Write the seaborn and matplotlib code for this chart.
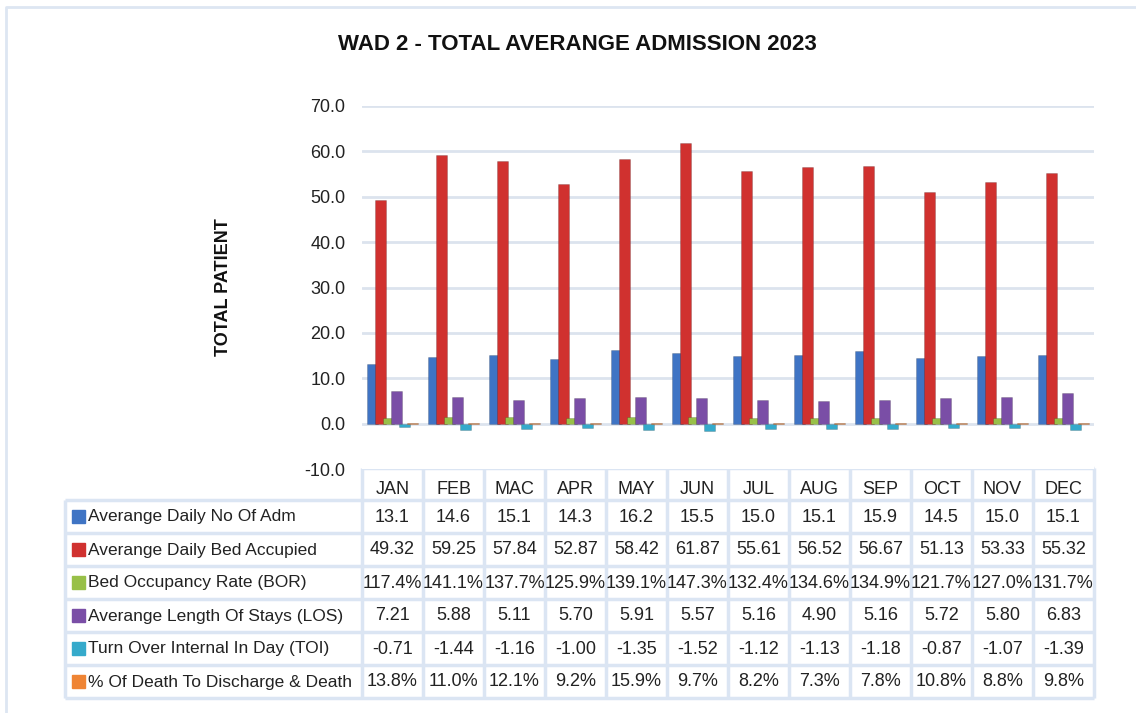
import matplotlib
matplotlib.use("Agg")
import matplotlib.pyplot as plt
import seaborn as sns
import pandas as pd
from matplotlib.patches import Rectangle

months = ["JAN", "FEB", "MAC", "APR", "MAY", "JUN", "JUL", "AUG", "SEP", "OCT", "NOV", "DEC"]
series_names = [
    "Averange Daily No Of Adm",
    "Averange Daily Bed Accupied",
    "Bed Occupancy Rate (BOR)",
    "Averange Length Of Stays (LOS)",
    "Turn Over Internal In Day (TOI)",
    "% Of Death To Discharge & Death",
]
adm = [13.1, 14.6, 15.1, 14.3, 16.2, 15.5, 15.0, 15.1, 15.9, 14.5, 15.0, 15.1]
bed = [49.32, 59.25, 57.84, 52.87, 58.42, 61.87, 55.61, 56.52, 56.67, 51.13, 53.33, 55.32]
bor_pct = [117.4, 141.1, 137.7, 125.9, 139.1, 147.3, 132.4, 134.6, 134.9, 121.7, 127.0, 131.7]
los = [7.21, 5.88, 5.11, 5.70, 5.91, 5.57, 5.16, 4.90, 5.16, 5.72, 5.80, 6.83]
toi = [-0.71, -1.44, -1.16, -1.00, -1.35, -1.52, -1.12, -1.13, -1.18, -0.87, -1.07, -1.39]
death_pct = [13.8, 11.0, 12.1, 9.2, 15.9, 9.7, 8.2, 7.3, 7.8, 10.8, 8.8, 9.8]
yticks = [-10, 0, 10, 20, 30, 40, 50, 60, 70]

colors = ["#3f74c4", "#d0312f", "#98c048", "#7a4ea6", "#35aacb", "#ef8434"]

plot_values = [adm, bed, [v / 100 for v in bor_pct], los, toi, [v / 100 for v in death_pct]]
table_text = [
    [f"{v:.1f}" for v in adm],
    [f"{v:.2f}" for v in bed],
    [f"{v:.1f}%" for v in bor_pct],
    [f"{v:.2f}" for v in los],
    [f"{v:.2f}" for v in toi],
    [f"{v:.1f}%" for v in death_pct],
]

rows = []
for name, vals in zip(series_names, plot_values):
    for m, v in zip(months, vals):
        rows.append({"Month": m, "Series": name, "Value": v})
df = pd.DataFrame(rows)

sns.set_style("white")
plt.rcParams["font.family"] = ["Liberation Sans", "DejaVu Sans"]

W, H = 1136, 713
fig = plt.figure(figsize=(W / 100, H / 100), dpi=100)

x0, x1 = 362, 1094
y_top, y_bot = 106, 469
ax = fig.add_axes([x0 / W, 1 - y_bot / H, (x1 - x0) / W, (y_bot - y_top) / H])
sns.barplot(data=df, x="Month", y="Value", hue="Series", order=months,
            hue_order=series_names, palette=colors, width=0.8,
            saturation=1, ax=ax, legend=False, zorder=3,
            edgecolor="none")
for p in ax.patches:
    w = p.get_width()
    p.set_x(p.get_x() - w * 0.17)
    p.set_width(w * 1.34)
    p.set_edgecolor((0, 0, 0, 0.18))
    p.set_linewidth(0.6)
ax.set_xlim(-0.5, 11.5)
ax.set_ylim(-10, 70)
ax.set_yticks(yticks)
ax.set_yticklabels([f"{t:.1f}" for t in yticks], fontsize=13, color="#222222")
ax.tick_params(axis="y", length=0, pad=12)
ax.set_xticks([])
ax.set_xlabel("")
ax.set_ylabel("TOTAL PATIENT", fontsize=13, fontweight="bold", labelpad=52, color="#111111")
for s in ax.spines.values():
    s.set_visible(False)
for t in yticks[1:]:
    ax.axhline(t, color="#dce3ee", lw=2, zorder=1)

tax = fig.add_axes([0, 0, 1, 1], zorder=-1)
tax.set_xlim(0, W)
tax.set_ylim(H, 0)
tax.axis("off")

lc = "#dde6f2"
tax.plot([6, 6, 1140], [720, 7, 7], color=lc, lw=2)

fig.text(577 / W, 1 - 45 / H, "WAD 2 - TOTAL AVERANGE ADMISSION 2023",
         ha="center", va="center", fontsize=16, fontweight="bold", color="#111111")

cw = (x1 - x0) / 12
tl = 65
row_tops = [500, 533, 566, 599, 632, 665, 698]
hdr_top = 468
tcol = "#dbe5f3"
tax.hlines(hdr_top, x0, x1, color=tcol, lw=2.5)
for i in range(13):
    tax.vlines(x0 + i * cw, hdr_top, row_tops[-1], color=tcol, lw=2.5)
for i, m in enumerate(months):
    tax.text(x0 + (i + 0.5) * cw, 489, m, ha="center", va="center", fontsize=13, color="#222222")
for y in row_tops:
    tax.hlines(y, tl, x1, color=tcol, lw=2.5)
tax.vlines(tl, row_tops[0], row_tops[-1], color=tcol, lw=2.5)
for r, (name, texts) in enumerate(zip(series_names, table_text)):
    yc = (row_tops[r] + row_tops[r + 1]) / 2
    tax.add_patch(Rectangle((72, yc - 6.5), 13, 13, color=colors[r]))
    tax.text(88, yc + 0.5, name, ha="left", va="center", fontsize=12.5, color="#222222")
    for i, t in enumerate(texts):
        tax.text(x0 + (i + 0.5) * cw, yc + 0.5, t, ha="center", va="center", fontsize=13, color="#222222")

fig.savefig("out.png", dpi=100)
